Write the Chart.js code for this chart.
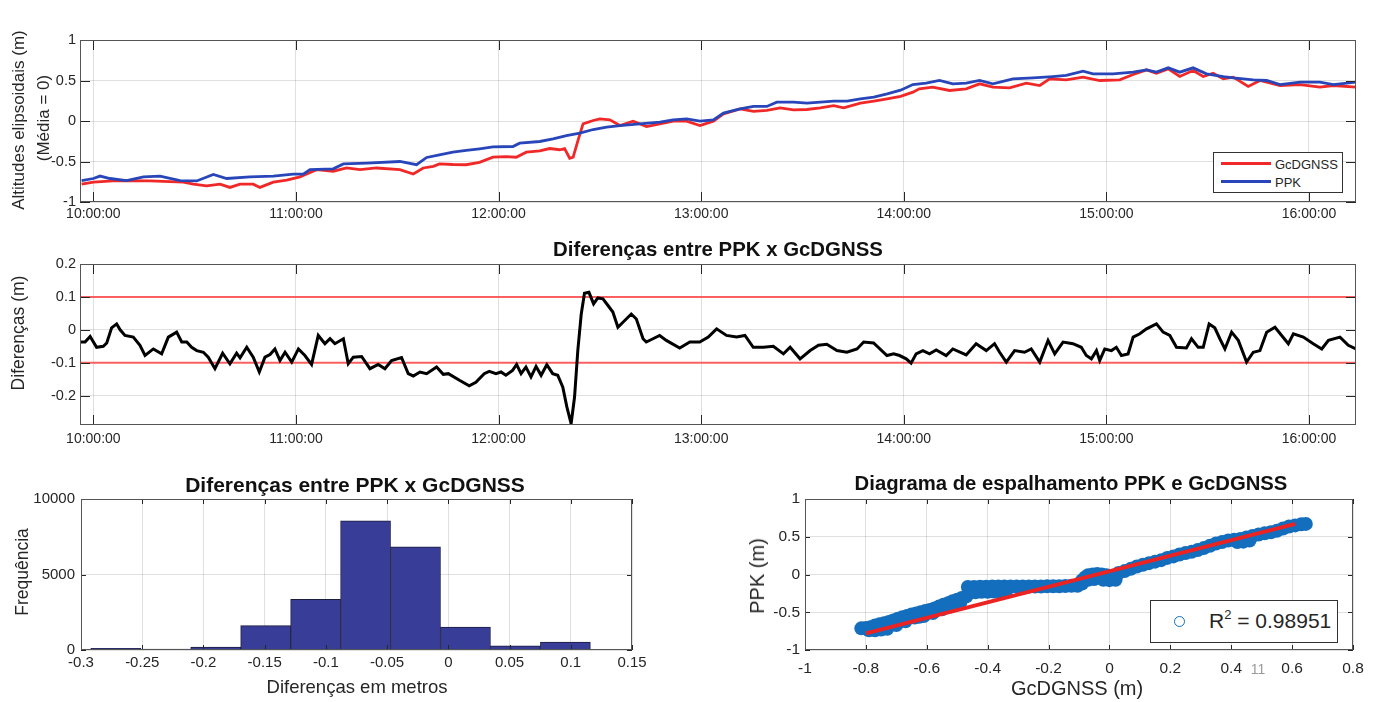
<!DOCTYPE html>
<html>
<head>
<meta charset="utf-8">
<script src="https://cdn.jsdelivr.net/npm/chart.js@4.4.1/dist/chart.umd.min.js"></script>
<style>
  html, body { margin: 0; padding: 0; background: #fff; }
  #page { position: relative; width: 1384px; height: 702px; overflow: hidden;
          font-family: "Liberation Sans", Arial, sans-serif; color: #262626; }
  canvas { position: absolute; left: 0; top: 0; }
  .lbl { position: absolute; white-space: nowrap; line-height: 1; transform: translate(-50%, -50%); }
  .rot { transform: translate(-50%, -50%) rotate(-90deg); }
  .bold { font-weight: bold; color: #111; }
  .legend { position: absolute; background: #fff; border: 1px solid #333; }
</style>
</head>
<body>
<div id="page">
  <canvas id="altChart" width="1384" height="702"></canvas>
  <canvas id="diffChart" width="1384" height="702"></canvas>
  <canvas id="histChart" width="1384" height="702"></canvas>
  <canvas id="scatChart" width="1384" height="702"></canvas>

  <div class="lbl rot" style="left:18px; top:120px; font-size:17px;">Altitudes elipsoidais (m)</div>
  <div class="lbl rot" style="left:43px; top:118px; font-size:17px;">(Média = 0)</div>
  <div class="legend" style="left:1213px; top:152px; width:128px; height:39px;">
    <div style="position:absolute; left:7px; top:9px; width:50px; height:3px; background:rgb(240,40,40);"></div>
    <div style="position:absolute; left:61px; top:4px; font-size:13px;">GcDGNSS</div>
    <div style="position:absolute; left:7px; top:27px; width:50px; height:3px; background:rgb(40,70,185);"></div>
    <div style="position:absolute; left:61px; top:22px; font-size:13px;">PPK</div>
  </div>

  <div class="lbl bold" style="left:718px; top:249px; font-size:20.4px;">Diferenças entre PPK x GcDGNSS</div>
  <div class="lbl rot" style="left:19px; top:333px; font-size:17.5px;">Diferenças (m)</div>

  <div class="lbl bold" style="left:355px; top:484px; font-size:21px;">Diferenças entre PPK x GcDGNSS</div>
  <div class="lbl rot" style="left:23px; top:572px; font-size:17.5px;">Frequência</div>
  <div class="lbl" style="left:357px; top:687px; font-size:18.5px;">Diferenças em metros</div>

  <div class="lbl bold" style="left:1071px; top:483px; font-size:20.3px;">Diagrama de espalhamento PPK e GcDGNSS</div>
  <div class="lbl rot" style="left:757px; top:576px; font-size:20px;">PPK (m)</div>
  <div class="lbl" style="left:1077px; top:688px; font-size:20px;">GcDGNSS (m)</div>
  <div class="lbl" style="left:1258px; top:669px; font-size:14px; color:#9a9a9a;">11</div>
  <div class="legend" style="left:1150px; top:600px; width:186px; height:41px;">
    <div style="position:absolute; left:23px; top:15px; width:9px; height:9px; border:1.5px solid rgb(20,110,190); border-radius:50%;"></div>
    <div style="position:absolute; left:58px; top:9px; font-size:21px; line-height:1;">R<span style="font-size:13px; position:relative; top:-9px;">2</span> = 0.98951</div>
  </div>
</div>

<script>
// top panel: ellipsoidal heights (mean removed), time in decimal hours
const gcTimes = [9.942, 10.0, 10.115, 10.28, 10.444, 10.493, 10.559, 10.625, 10.674, 10.724, 10.789, 10.822, 10.888,
  10.954, 11.02, 11.053, 11.102, 11.184, 11.25, 11.316, 11.398, 11.513, 11.579, 11.628, 11.678, 11.708, 11.774, 11.84,
  11.906, 11.972, 12.038, 12.087, 12.137, 12.203, 12.252, 12.302, 12.326, 12.351, 12.368, 12.392, 12.417, 12.467, 12.5,
  12.549, 12.599, 12.664, 12.73, 12.796, 12.862, 12.928, 12.994, 13.06, 13.11, 13.192, 13.258, 13.324, 13.39, 13.456,
  13.522, 13.588, 13.654, 13.703, 13.786, 13.852, 13.918, 13.984, 14.045, 14.077, 14.143, 14.226, 14.308, 14.374, 14.44,
  14.522, 14.605, 14.671, 14.72, 14.802, 14.885, 14.967, 15.066, 15.132, 15.198, 15.247, 15.305, 15.362, 15.428, 15.478,
  15.527, 15.577, 15.626, 15.7, 15.758, 15.857, 15.956, 16.054, 16.12, 16.232];
const gcValues = [-0.78, -0.755, -0.735, -0.74, -0.755, -0.78, -0.8, -0.78, -0.82, -0.78, -0.78, -0.82, -0.755,
  -0.73, -0.69, -0.655, -0.6, -0.62, -0.58, -0.6, -0.58, -0.6, -0.655, -0.58, -0.56, -0.53, -0.537, -0.54,
  -0.51, -0.447, -0.44, -0.447, -0.385, -0.37, -0.34, -0.355, -0.34, -0.46, -0.447, -0.24, -0.035, 0.006, 0.027,
  0.014, -0.056, -0.002, -0.068, -0.035, -0.002, -0.002, -0.056, -0.002, 0.088, 0.15, 0.12, 0.13, 0.163, 0.138,
  0.142, 0.163, 0.19, 0.163, 0.22, 0.245, 0.274, 0.305, 0.356, 0.397, 0.418, 0.377, 0.397, 0.459, 0.418,
  0.41, 0.467, 0.438, 0.52, 0.508, 0.541, 0.5, 0.508, 0.574, 0.632, 0.59, 0.644, 0.549, 0.623, 0.549,
  0.59, 0.52, 0.541, 0.426, 0.5, 0.438, 0.45, 0.418, 0.438, 0.418];
const ppkTimes = [9.942, 10.0, 10.033, 10.082, 10.164, 10.247, 10.329, 10.428, 10.51, 10.592, 10.658, 10.773, 10.888,
  10.987, 11.036, 11.069, 11.184, 11.234, 11.349, 11.513, 11.595, 11.645, 11.708, 11.774, 11.84, 11.906, 11.972, 12.071,
  12.104, 12.203, 12.269, 12.335, 12.401, 12.467, 12.533, 12.599, 12.697, 12.796, 12.862, 12.928, 12.994, 13.06, 13.11,
  13.192, 13.258, 13.324, 13.373, 13.456, 13.522, 13.588, 13.654, 13.72, 13.786, 13.852, 13.918, 13.984, 14.045, 14.11,
  14.176, 14.242, 14.308, 14.374, 14.44, 14.539, 14.638, 14.736, 14.802, 14.885, 14.934, 15.033, 15.132, 15.198, 15.247,
  15.305, 15.362, 15.428, 15.494, 15.577, 15.626, 15.725, 15.791, 15.857, 15.956, 16.054, 16.12, 16.232];
const ppkValues = [-0.735, -0.71, -0.68, -0.71, -0.735, -0.69, -0.68, -0.735, -0.74, -0.66, -0.71, -0.69, -0.68,
  -0.655, -0.655, -0.6, -0.59, -0.53, -0.52, -0.5, -0.54, -0.45, -0.418, -0.385, -0.364, -0.343, -0.32, -0.315,
  -0.274, -0.253, -0.22, -0.18, -0.15, -0.105, -0.076, -0.056, -0.035, -0.014, 0.014, 0.027, -0.002, 0.014, 0.097,
  0.15, 0.18, 0.18, 0.233, 0.233, 0.22, 0.233, 0.245, 0.245, 0.274, 0.294, 0.335, 0.38, 0.45, 0.467,
  0.5, 0.459, 0.467, 0.5, 0.459, 0.52, 0.533, 0.549, 0.562, 0.615, 0.583, 0.583, 0.603, 0.632, 0.603,
  0.656, 0.603, 0.656, 0.583, 0.549, 0.533, 0.508, 0.5, 0.45, 0.479, 0.479, 0.45, 0.479];

// middle panel: differences (m)
const diffTimes = [9.934, 9.959, 9.984, 10.016, 10.049, 10.066, 10.09, 10.115, 10.132, 10.156, 10.197, 10.23, 10.255,
  10.296, 10.337, 10.37, 10.411, 10.436, 10.461, 10.485, 10.51, 10.543, 10.567, 10.6, 10.638, 10.674, 10.707, 10.724,
  10.757, 10.789, 10.819, 10.847, 10.872, 10.896, 10.921, 10.946, 10.979, 11.012, 11.044, 11.077, 11.11, 11.143, 11.168,
  11.192, 11.234, 11.258, 11.283, 11.324, 11.365, 11.406, 11.439, 11.472, 11.521, 11.554, 11.579, 11.612, 11.645, 11.694,
  11.727, 11.752, 11.809, 11.855, 11.888, 11.929, 11.954, 11.987, 12.012, 12.036, 12.069, 12.089, 12.111, 12.135, 12.16,
  12.185, 12.21, 12.238, 12.267, 12.292, 12.317, 12.337, 12.358, 12.375, 12.391, 12.408, 12.424, 12.446, 12.469, 12.49,
  12.515, 12.54, 12.564, 12.589, 12.614, 12.655, 12.68, 12.713, 12.729, 12.762, 12.795, 12.828, 12.894, 12.944, 12.993,
  13.035, 13.076, 13.125, 13.175, 13.216, 13.257, 13.307, 13.356, 13.406, 13.439, 13.488, 13.538, 13.579, 13.62, 13.67,
  13.719, 13.769, 13.802, 13.851, 13.917, 13.95, 13.979, 14.012, 14.036, 14.061, 14.094, 14.127, 14.16, 14.209, 14.242,
  14.308, 14.357, 14.407, 14.448, 14.473, 14.506, 14.547, 14.596, 14.629, 14.671, 14.712, 14.745, 14.786, 14.835, 14.876,
  14.901, 14.926, 14.951, 14.967, 14.992, 15.025, 15.049, 15.074, 15.107, 15.132, 15.165, 15.198, 15.247, 15.28, 15.313,
  15.346, 15.395, 15.42, 15.453, 15.478, 15.507, 15.535, 15.56, 15.585, 15.618, 15.651, 15.692, 15.725, 15.758, 15.791,
  15.832, 15.865, 15.898, 15.923, 15.972, 16.021, 16.063, 16.096, 16.153, 16.194, 16.232];
const diffValues = [-0.037, -0.037, -0.02, -0.053, -0.05, -0.04, 0.006, 0.018, 0.0, -0.017, -0.022, -0.047, -0.078,
  -0.058, -0.073, -0.022, -0.007, -0.037, -0.037, -0.053, -0.063, -0.068, -0.083, -0.118, -0.071, -0.103, -0.071, -0.085,
  -0.053, -0.083, -0.128, -0.083, -0.075, -0.058, -0.093, -0.068, -0.098, -0.058, -0.078, -0.105, -0.017, -0.042, -0.027,
  -0.042, -0.027, -0.103, -0.083, -0.081, -0.118, -0.105, -0.118, -0.093, -0.084, -0.133, -0.14, -0.128, -0.133, -0.113,
  -0.135, -0.133, -0.154, -0.17, -0.159, -0.133, -0.126, -0.133, -0.128, -0.138, -0.123, -0.105, -0.133, -0.113, -0.143,
  -0.111, -0.138, -0.106, -0.133, -0.138, -0.174, -0.234, -0.285, -0.204, -0.063, 0.048, 0.111, 0.114, 0.079, 0.097,
  0.094, 0.074, 0.054, 0.008, 0.023, 0.048, 0.033, -0.027, -0.037, -0.027, -0.017, -0.032, -0.055, -0.037, -0.037,
  -0.022, 0.003, -0.017, -0.022, -0.017, -0.053, -0.053, -0.05, -0.073, -0.053, -0.088, -0.063, -0.047, -0.044, -0.063,
  -0.068, -0.058, -0.037, -0.04, -0.078, -0.073, -0.078, -0.088, -0.101, -0.073, -0.063, -0.073, -0.061, -0.078, -0.058,
  -0.076, -0.042, -0.063, -0.042, -0.068, -0.098, -0.063, -0.068, -0.058, -0.098, -0.032, -0.073, -0.037, -0.042, -0.053,
  -0.078, -0.088, -0.063, -0.093, -0.058, -0.063, -0.053, -0.078, -0.073, -0.022, -0.012, 0.003, 0.018, -0.007, -0.017,
  -0.053, -0.055, -0.027, -0.053, -0.053, 0.018, 0.006, -0.027, -0.058, -0.007, -0.032, -0.098, -0.068, -0.063, -0.007,
  0.008, -0.017, -0.042, -0.012, -0.022, -0.042, -0.058, -0.032, -0.022, -0.047, -0.058];
const diffLimits = [0.1, -0.1];

// histogram of the differences
const histCenters = [-0.2716, -0.2308, -0.19, -0.1492, -0.1084, -0.0676, -0.0268, 0.014, 0.0548, 0.0956];
const histCounts = [110, 60, 200, 1610, 3350, 8560, 6840, 1520, 280, 520];

// scatter PPK vs GcDGNSS and fitted line
const scatterGc = [-0.815, -0.8, -0.785, -0.77, -0.755, -0.74, -0.725, -0.71, -0.695, -0.68, -0.665, -0.65, -0.635,
  -0.62, -0.605, -0.59, -0.575, -0.56, -0.545, -0.53, -0.515, -0.5, -0.485, -0.47,
  -0.79, -0.77, -0.75, -0.73, -0.7, -0.67, -0.64, -0.625, -0.61, -0.58, -0.55, -0.52, -0.49,
  -0.465, -0.445, -0.425, -0.405, -0.385, -0.365, -0.345, -0.325, -0.305, -0.285, -0.265, -0.245, -0.225, -0.205,
  -0.185, -0.165, -0.145, -0.125, -0.105,
  -0.46, -0.44, -0.42, -0.4, -0.38, -0.36, -0.34,
  -0.09, -0.08, -0.07, -0.055, -0.04, -0.025, -0.01, 0.005, 0.02, 0.02, 0.0, -0.02, -0.05, -0.07, -0.09,
  0.03, 0.05, 0.07, 0.09, 0.11, 0.13, 0.15, 0.17, 0.19, 0.21, 0.23, 0.25, 0.27, 0.29, 0.31, 0.33, 0.35, 0.37, 0.39,
  0.41, 0.43, 0.45, 0.47, 0.49, 0.51, 0.53, 0.55, 0.57, 0.59, 0.61, 0.63, 0.645,
  0.42, 0.44, 0.46];
const scatterPpk = [-0.713, -0.71, -0.7, -0.675, -0.66, -0.645, -0.63, -0.61, -0.585, -0.565, -0.55, -0.53, -0.515,
  -0.5, -0.485, -0.47, -0.45, -0.425, -0.4, -0.38, -0.355, -0.335, -0.31, -0.29,
  -0.74, -0.74, -0.73, -0.72, -0.67, -0.62, -0.57, -0.56, -0.55, -0.51, -0.46, -0.42, -0.37,
  -0.165, -0.165, -0.162, -0.162, -0.16, -0.16, -0.16, -0.16, -0.16, -0.16, -0.158, -0.158, -0.158, -0.156,
  -0.156, -0.155, -0.152, -0.15, -0.15,
  -0.235, -0.235, -0.23, -0.23, -0.225, -0.225, -0.22,
  -0.08, -0.04, -0.01, 0.0, 0.005, 0.0, -0.01, -0.02, -0.04, -0.07, -0.075, -0.07, -0.06, -0.07, -0.12,
  0.02, 0.045, 0.075, 0.105, 0.13, 0.15, 0.17, 0.19, 0.22, 0.24, 0.265, 0.285, 0.3, 0.325, 0.35, 0.38, 0.41, 0.43, 0.45,
  0.46, 0.47, 0.49, 0.51, 0.53, 0.545, 0.56, 0.58, 0.61, 0.635, 0.65, 0.665, 0.67,
  0.43, 0.435, 0.45];
const fitGc = [-0.8, 0.61];
const fitPpk = [-0.78, 0.67];

// tick values
const hourTicks = [10, 11, 12, 13, 14, 15, 16];
const altTicks = [-1, -0.5, 0, 0.5, 1];
const diffTicks = [-0.2, -0.1, 0, 0.1, 0.2];
const histXTicks = [-0.3, -0.25, -0.2, -0.15, -0.1, -0.05, 0, 0.05, 0.1, 0.15];
const histYTicks = [0, 5000, 10000];
const scatXTicks = [-1, -0.8, -0.6, -0.4, -0.2, 0, 0.2, 0.4, 0.6, 0.8];
const scatYTicks = [-1, -0.5, 0, 0.5, 1];

const PAGE_W = 1384, PAGE_H = 702;
const FONT = "'Liberation Sans', Arial, sans-serif";
const GRID = 'rgba(0,0,0,0.12)';
const RED = 'rgb(240,40,40)';
const BLUE = 'rgb(40,70,185)';
const T_MIN = 9.934, T_MAX = 16.232;

// MATLAB style box with ticks pointing inwards
const matlabAxes = {
  id: 'matlabAxes',
  afterDraw(chart, args, opts) {
    const ctx = chart.ctx, a = chart.chartArea;
    const len = opts.tickLen || 5;
    const sx = chart.scales.x, sy = chart.scales.y;
    ctx.save();
    ctx.strokeStyle = '#262626';
    ctx.lineWidth = 1;
    ctx.beginPath();
    sx.ticks.forEach(t => {
      const px = Math.round(sx.getPixelForValue(t.value)) + 0.5;
      ctx.moveTo(px, a.top); ctx.lineTo(px, a.top + len);
      ctx.moveTo(px, a.bottom); ctx.lineTo(px, a.bottom - len);
    });
    sy.ticks.forEach(t => {
      const py = Math.round(sy.getPixelForValue(t.value)) + 0.5;
      ctx.moveTo(a.left, py); ctx.lineTo(a.left + len, py);
      ctx.moveTo(a.right, py); ctx.lineTo(a.right - len, py);
    });
    ctx.stroke();
    ctx.strokeStyle = '#555';
    ctx.strokeRect(Math.round(a.left) + 0.5, Math.round(a.top) + 0.5, Math.round(a.width) - 1, Math.round(a.height) - 1);
    ctx.restore();
  }
};
Chart.register(matlabAxes);

function toPoints(xs, ys) {
  return xs.map((x, i) => ({ x: x, y: ys[i] }));
}

function scaleOpts(s, horizontal) {
  return {
    type: 'linear',
    min: s.min,
    max: s.max,
    offset: false,
    afterBuildTicks: sc => { sc.ticks = s.ticks.map(v => ({ value: v })); },
    afterFit: sc => { if (horizontal) sc.height = s.size; else sc.width = s.size; },
    grid: { color: GRID, drawTicks: false, offset: false },
    border: { display: false },
    ticks: {
      color: '#262626',
      font: { family: FONT, size: s.font },
      padding: s.pad,
      maxRotation: 0,
      autoSkip: false,
      callback: s.fmt || (v => String(v))
    }
  };
}

function buildOptions(area, tickLen, xs, ys) {
  return {
    responsive: false,
    animation: false,
    devicePixelRatio: 1,
    layout: {
      padding: {
        left: area.left - ys.size,
        top: area.top,
        right: PAGE_W - area.right,
        bottom: PAGE_H - area.bottom - xs.size
      }
    },
    plugins: { legend: { display: false }, tooltip: { enabled: false }, matlabAxes: { tickLen: tickLen } },
    scales: { x: scaleOpts(xs, true), y: scaleOpts(ys, false) }
  };
}

const hourFmt = v => v + ':00:00';

new Chart(document.getElementById('altChart'), {
  type: 'line',
  data: {
    datasets: [
      { label: 'GcDGNSS', data: toPoints(gcTimes, gcValues), borderColor: RED, borderWidth: 2.8, pointRadius: 0, order: 1 },
      { label: 'PPK', data: toPoints(ppkTimes, ppkValues), borderColor: BLUE, borderWidth: 2.8, pointRadius: 0, order: 0 }
    ]
  },
  options: buildOptions({ left: 80, right: 1356, top: 40, bottom: 202 }, 10,
    { min: T_MIN, max: T_MAX, ticks: hourTicks, fmt: hourFmt, font: 14, pad: 4, size: 24 },
    { min: -1, max: 1, ticks: altTicks, font: 14.5, pad: 4, size: 40 })
});

new Chart(document.getElementById('diffChart'), {
  type: 'line',
  data: {
    datasets: [
      ...diffLimits.map(v => ({
        data: [{ x: T_MIN, y: v }, { x: T_MAX, y: v }],
        borderColor: 'rgba(255,70,70,0.85)', borderWidth: 2, pointRadius: 0, order: 1
      })),
      { label: 'Diferenças', data: toPoints(diffTimes, diffValues), borderColor: '#000', borderWidth: 3, pointRadius: 0, order: 0 }
    ]
  },
  options: buildOptions({ left: 80, right: 1356, top: 264, bottom: 425 }, 10,
    { min: T_MIN, max: T_MAX, ticks: hourTicks, fmt: hourFmt, font: 14, pad: 6, size: 24 },
    { min: -0.289, max: 0.2, ticks: diffTicks, font: 14.5, pad: 4, size: 40 })
});

new Chart(document.getElementById('histChart'), {
  type: 'bar',
  data: {
    datasets: [{
      data: toPoints(histCenters, histCounts),
      backgroundColor: 'rgb(56,61,152)',
      borderColor: 'rgb(28,28,60)',
      borderWidth: 1,
      barPercentage: 1,
      categoryPercentage: 1
    }]
  },
  options: buildOptions({ left: 81, right: 632, top: 499, bottom: 650 }, 5,
    { min: -0.3, max: 0.15, ticks: histXTicks, font: 15, pad: 4, size: 24 },
    { min: 0, max: 10000, ticks: histYTicks, font: 15, pad: 6, size: 50 })
});

new Chart(document.getElementById('scatChart'), {
  type: 'scatter',
  data: {
    datasets: [
      { data: toPoints(fitGc, fitPpk), showLine: true, borderColor: 'rgb(235,35,35)', borderWidth: 4, pointRadius: 0, order: 0 },
      { data: toPoints(scatterGc, scatterPpk), pointRadius: 7, pointBorderWidth: 0,
        pointBackgroundColor: 'rgb(20,110,190)', order: 1 }
    ]
  },
  options: buildOptions({ left: 805, right: 1353, top: 499, bottom: 650 }, 5,
    { min: -1, max: 0.8, ticks: scatXTicks, font: 15.5, pad: 9, size: 26 },
    { min: -1, max: 1, ticks: scatYTicks, font: 15.5, pad: 5, size: 40 })
});
</script>
</body>
</html>
